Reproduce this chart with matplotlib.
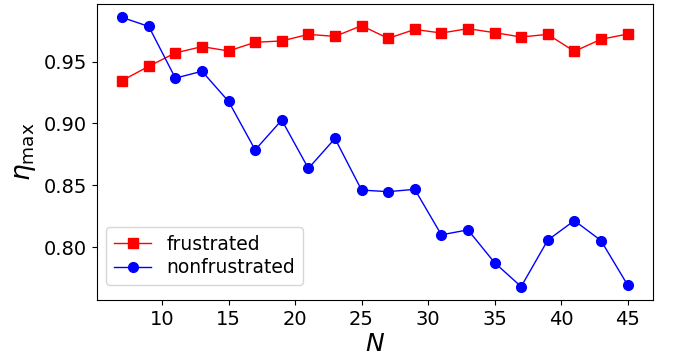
import numpy as np
import matplotlib
matplotlib.use('Agg')
import matplotlib.pyplot as plt

# system sizes
N = [7, 9, 11, 13, 15, 17, 19, 21, 23, 25, 27, 29, 31, 33, 35, 37, 39, 41, 43, 45]

# maximal efficiency
eta_frustrated = [0.9347, 0.9462, 0.9570, 0.9621, 0.9586, 0.9656, 0.9667, 0.9720,
                  0.9704, 0.9790, 0.9688, 0.9760, 0.9731, 0.9766, 0.9734, 0.9699,
                  0.9720, 0.9583, 0.9680, 0.9723]
eta_nonfrustrated = [0.9857, 0.9784, 0.9366, 0.9422, 0.9178, 0.8786, 0.9027, 0.8636,
                     0.8878, 0.8461, 0.8448, 0.8467, 0.8099, 0.8139, 0.7874, 0.7680,
                     0.8056, 0.8214, 0.8053, 0.7694]

fig, ax = plt.subplots(figsize=(6.73, 3.62), dpi=100)
fig.subplots_adjust(left=0.144, right=0.970, top=0.989, bottom=0.171)

ax.plot(N, eta_frustrated, 'r-', marker='s', markersize=6.5, linewidth=1,
        label='frustrated')
ax.plot(N, eta_nonfrustrated, 'b-', marker='o', markersize=7, linewidth=1,
        label='nonfrustrated')

ax.set_xticks([10, 15, 20, 25, 30, 35, 40, 45])
ax.set_yticks([0.80, 0.85, 0.90, 0.95])
ax.tick_params(labelsize=14)
ax.set_xlabel(r'$N$', fontsize=18, labelpad=2)
ax.set_ylabel(r'$\eta_{\max}$', fontsize=19, labelpad=4)
ax.legend(loc='lower left', fontsize=13.5, handlelength=2, borderpad=0.4,
          labelspacing=0.25, bbox_to_anchor=(0.0, 0.02))

plt.savefig('out.png', dpi=100)
